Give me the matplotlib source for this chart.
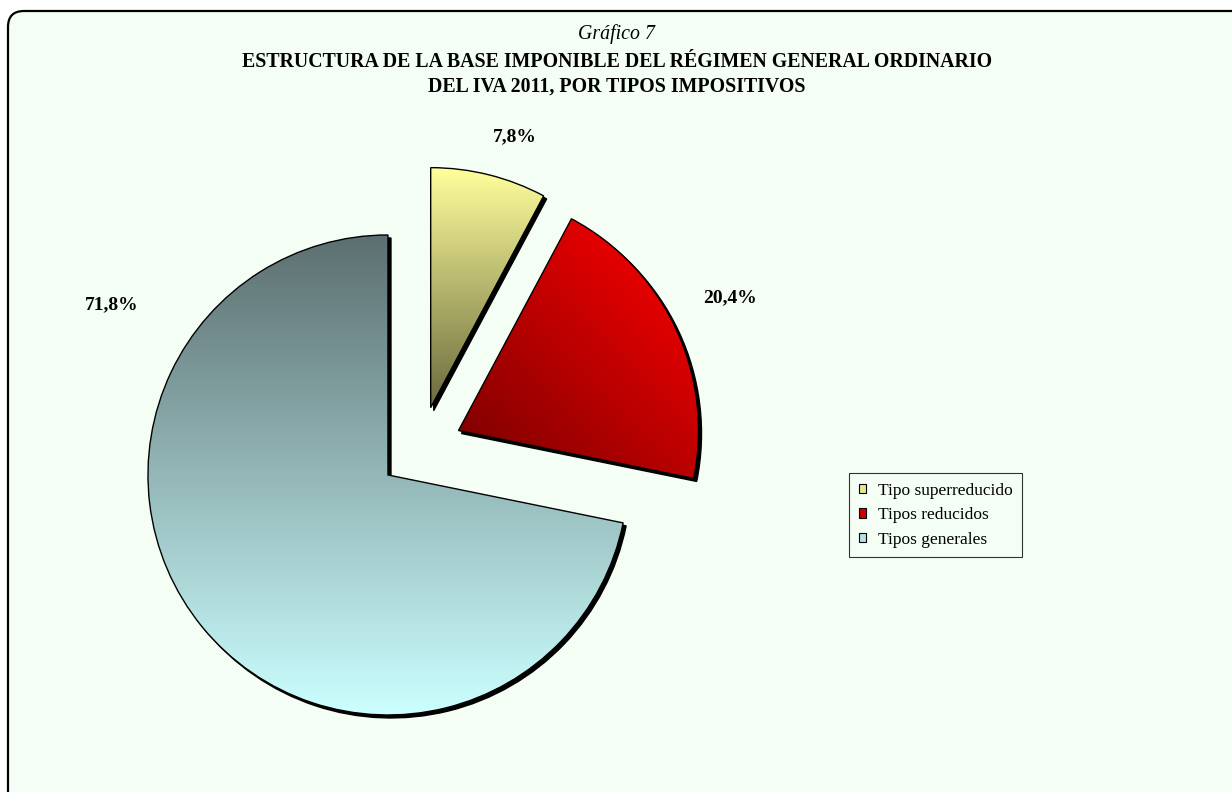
import numpy as np
import matplotlib
matplotlib.use("Agg")
import matplotlib.pyplot as plt
import matplotlib.patches as mpatches
from matplotlib.colors import LinearSegmentedColormap
from matplotlib.transforms import ScaledTranslation

# datos del gráfico
categorias = ["Tipo superreducido", "Tipos reducidos", "Tipos generales"]
porcentajes = [7.8, 20.4, 71.8]
etiquetas = ["7,8%", "20,4%", "71,8%"]

titulo_sup = "Gráfico 7"
titulo = "ESTRUCTURA DE LA BASE IMPONIBLE DEL RÉGIMEN GENERAL ORDINARIO\nDEL IVA 2011, POR TIPOS IMPOSITIVOS"

# colores (degradados tipo Excel)
grad_colores = [("#6A6A3E", "#FFFF9C"),   # abajo -> arriba
                ("#760000", "#F20000"),   # abajo-izq -> arriba-der
                ("#CCFFFF", "#5C6F70")]   # abajo -> arriba
leyenda_colores = ["#E6E690", "#D00000", "#B4E2E4"]

# posiciones de texto en pixeles (x, y desde arriba)
pos_etiquetas = [(515, 137), (730, 298), (112, 305)]

W, H, DPI = 1232, 792, 100
R_PX = 240.0
cx, cy = 420.5, 448.4   # centro del pastel en pixeles

plt.rcParams["font.family"] = ["Liberation Serif", "DejaVu Serif"]

fig = plt.figure(figsize=(W / DPI, H / DPI), dpi=DPI, facecolor="white")

# marco redondeado con fondo verde claro
marco = mpatches.FancyBboxPatch((8, -20), W + 40, H - 11 + 20,
                                boxstyle="round,pad=0,rounding_size=16",
                                transform=None, facecolor="#F4FEF4",
                                edgecolor="black", linewidth=1.6, zorder=-5)
fig.patches.append(marco)

ax = fig.add_axes([0, 0, 1, 1])
ax.set_facecolor("none")
ax.axis("off")

wedges, _ = ax.pie(porcentajes, startangle=90, counterclock=False,
                   explode=[0.175] * 3, radius=1.0,
                   wedgeprops=dict(edgecolor="black", linewidth=1.0))

desplaza = ax.transData + ScaledTranslation(3 / DPI, -3 / DPI, fig.dpi_scale_trans)

for i, w in enumerate(wedges):
    # sombra negra desplazada
    sombra = mpatches.Wedge(w.center, w.r, w.theta1, w.theta2,
                            facecolor="black", edgecolor="black",
                            linewidth=1.0, transform=desplaza, zorder=0.5)
    ax.add_patch(sombra)
    w.set_zorder(2)
    w.set_facecolor("none")

    ext = w.get_path().get_extents()
    x0, y0, x1, y1 = ext.x0, ext.y0, ext.x1, ext.y1
    yy, xx = np.mgrid[0:1:200j, 0:1:200j]
    if i == 1:
        t = np.clip(0.55 * xx + 0.6 * yy, 0, 1)
    else:
        t = yy
    cmap = LinearSegmentedColormap.from_list("g%d" % i, grad_colores[i])
    im = ax.imshow(t, cmap=cmap, origin="lower", extent=(x0, x1, y0, y1),
                   interpolation="bilinear", zorder=1, aspect="auto")
    im.set_clip_path(w)

ax.set_xlim(-cx / R_PX, (W - cx) / R_PX)
ax.set_ylim(-(H - cy) / R_PX, cy / R_PX)
ax.set_aspect("auto")

for txt, (px, py) in zip(etiquetas, pos_etiquetas):
    fig.text(px / W, 1 - py / H, txt, ha="center", va="center",
             fontsize=14, fontweight="bold")

fig.text(0.5008, 1 - 34 / H, titulo_sup, ha="center", va="center",
         fontsize=14.3, style="italic")
fig.text(0.5008, 1 - 74.5 / H, titulo, ha="center", va="center",
         fontsize=14.3, fontweight="bold", linespacing=1.3)

handles = [mpatches.Patch(facecolor=c, edgecolor="black", linewidth=0.8)
           for c in leyenda_colores]
leg = fig.legend(handles, categorias, loc="upper left",
                 bbox_to_anchor=(849 / W, 1 - 473 / H), fontsize=12.5,
                 frameon=True, fancybox=False, handlelength=0.45,
                 handleheight=0.45, handletextpad=0.65, borderpad=0.55,
                 labelspacing=0.5, borderaxespad=0)
leg.get_frame().set_edgecolor("black")
leg.get_frame().set_linewidth(0.8)
leg.get_frame().set_facecolor("#F4FEF4")

fig.savefig("out.png", dpi=DPI, facecolor="white")
